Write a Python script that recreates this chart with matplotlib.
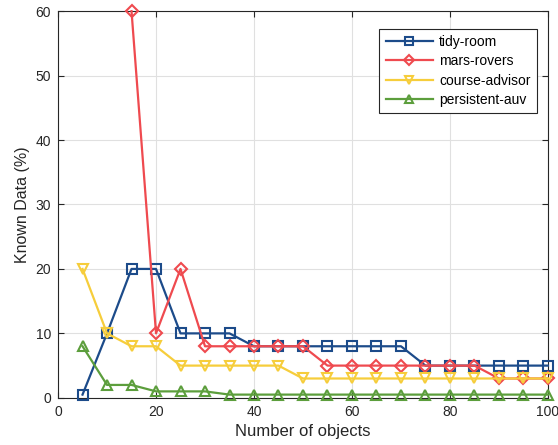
import numpy as np
import matplotlib
matplotlib.use("Agg")
import matplotlib.pyplot as plt

# ── Data ──────────────────────────────────────────────────────────────────────
n_objects = [5, 10, 15, 20, 25, 30, 35, 40, 45, 50,
             55, 60, 65, 70, 75, 80, 85, 90, 95, 100]

tidy_room = [0.5, 10, 20, 20, 10, 10, 10, 8, 8, 8,
             8, 8, 8, 8, 5, 5, 5, 5, 5, 5]
mars_rovers = [np.nan, np.nan, 60, 10, 20, 8, 8, 8, 8, 8,
               5, 5, 5, 5, 5, 5, 5, 3, 3, 3]
course_advisor = [20, 10, 8, 8, 5, 5, 5, 5, 5, 3,
                  3, 3, 3, 3, 3, 3, 3, 3, 3, 3]
persistent_auv = [8, 2, 2, 1, 1, 1, 0.5, 0.5, 0.5, 0.5,
                  0.5, 0.5, 0.5, 0.5, 0.5, 0.5, 0.5, 0.5, 0.5, 0.5]

series = [
    ("tidy-room",       tidy_room,      "#1c4b8a", "s"),
    ("mars-rovers",     mars_rovers,    "#ef4a4f", "D"),
    ("course-advisor",  course_advisor, "#f6cd3b", "v"),
    ("persistent-auv",  persistent_auv, "#5c9e3c", "^"),
]

plt.rcParams["font.family"] = ["Liberation Sans", "DejaVu Sans"]

fig = plt.figure(figsize=(5.58, 4.45), dpi=100)
ax = fig.add_axes([0.104, 0.106, 0.878, 0.869])

for name, vals, col, mk in series:
    ms = 6.5 if mk == "D" else 7
    ax.plot(n_objects, vals, color=col, marker=mk, markersize=ms,
            markerfacecolor="none", markeredgewidth=1.5, linewidth=1.6,
            label=name, clip_on=False, zorder=3)

ax.set_xlim(0, 100)
ax.set_ylim(0, 60)
ax.set_xticks(range(0, 101, 20))
ax.set_yticks(range(0, 61, 10))
ax.grid(True, color="#e0e0e0", linewidth=0.8)
ax.set_axisbelow(True)
ax.tick_params(direction="in", length=4, labelsize=10, color="#262626",
               labelcolor="#262626", top=True, right=True, pad=5)
for s in ax.spines.values():
    s.set_color("#262626")
    s.set_linewidth(0.8)

ax.set_xlabel("Number of objects", fontsize=12, color="#262626", labelpad=4)
ax.set_ylabel("Known Data (%)", fontsize=11.5, color="#262626")

leg = ax.legend(loc="upper right", bbox_to_anchor=(0.986, 0.965), fontsize=10,
                fancybox=False, edgecolor="#262626", framealpha=1,
                handlelength=3.4, labelspacing=0.38, borderpad=0.45,
                handletextpad=0.45, borderaxespad=0.3, markerscale=0.8)
leg.get_frame().set_linewidth(0.8)

fig.savefig("out.png", dpi=100)
